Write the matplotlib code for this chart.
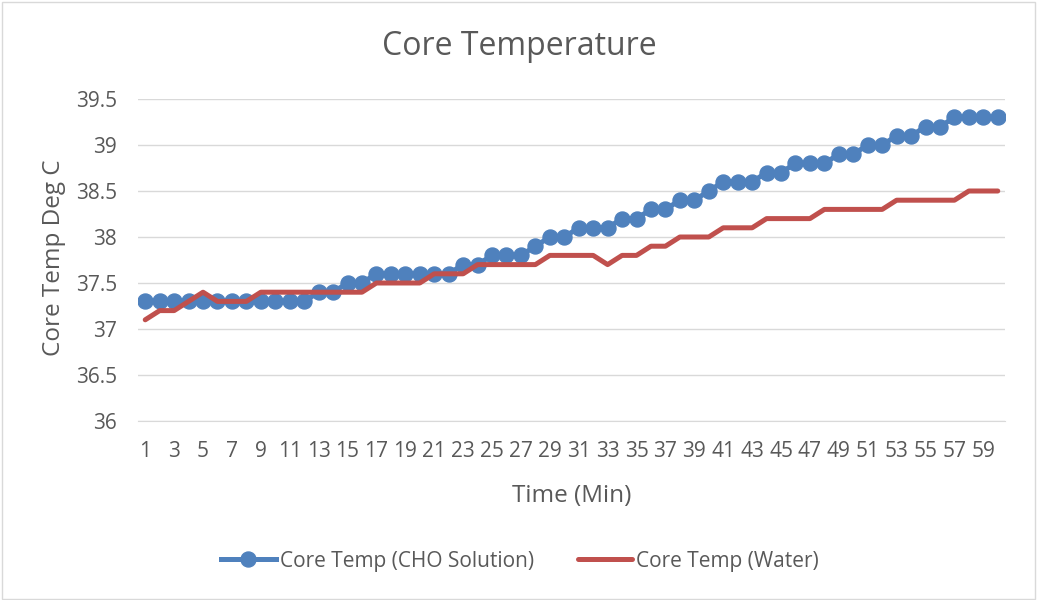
import matplotlib
matplotlib.use("Agg")
import matplotlib.pyplot as plt
from matplotlib.patches import Rectangle

minutes = list(range(1, 61))
cho = [37.3, 37.3, 37.3, 37.3, 37.3, 37.3, 37.3, 37.3, 37.3, 37.3,
       37.3, 37.3, 37.4, 37.4, 37.5, 37.5, 37.6, 37.6, 37.6, 37.6,
       37.6, 37.6, 37.7, 37.7, 37.8, 37.8, 37.8, 37.9, 38.0, 38.0,
       38.1, 38.1, 38.1, 38.2, 38.2, 38.3, 38.3, 38.4, 38.4, 38.5,
       38.6, 38.6, 38.6, 38.7, 38.7, 38.8, 38.8, 38.8, 38.9, 38.9,
       39.0, 39.0, 39.1, 39.1, 39.2, 39.2, 39.3, 39.3, 39.3, 39.3]
water = [37.1, 37.2, 37.2, 37.3, 37.4, 37.3, 37.3, 37.3, 37.4, 37.4,
         37.4, 37.4, 37.4, 37.4, 37.4, 37.4, 37.5, 37.5, 37.5, 37.5,
         37.6, 37.6, 37.6, 37.7, 37.7, 37.7, 37.7, 37.7, 37.8, 37.8,
         37.8, 37.8, 37.7, 37.8, 37.8, 37.9, 37.9, 38.0, 38.0, 38.0,
         38.1, 38.1, 38.1, 38.2, 38.2, 38.2, 38.2, 38.3, 38.3, 38.3,
         38.3, 38.3, 38.4, 38.4, 38.4, 38.4, 38.4, 38.5, 38.5, 38.5]
tick_minutes = list(range(1, 61, 2))
y_ticks = [36, 36.5, 37, 37.5, 38, 38.5, 39, 39.5]
y_tick_labels = ["36", "36.5", "37", "37.5", "38", "38.5", "39", "39.5"]

plt.rcParams['font.family'] = ['Open Sans', 'DejaVu Sans']
text_color = '#595959'
blue = '#4F81BD'
red = '#C0504D'
W, H = 1037, 600

fig = plt.figure(figsize=(10.37, 6.0), dpi=100)
ax = fig.add_axes([138 / W, 1 - 421 / H, (1005 - 138) / W, (421 - 99) / H])

ax.plot(minutes, cho, color=blue, lw=3.6, marker='o', markersize=10.8,
        label='Core Temp (CHO Solution)', zorder=3, solid_joinstyle='round')
ax.plot(minutes, water, color=red, lw=3.6, label='Core Temp (Water)', zorder=4,
        solid_joinstyle='round', solid_capstyle='round')

ax.set_xlim(0.5, 60.5)
ax.set_ylim(36, 39.5)
ax.set_yticks(y_ticks)
ax.set_yticklabels(y_tick_labels)
ax.set_xticks(tick_minutes)
ax.set_xticklabels([str(t) for t in tick_minutes])
ax.grid(axis='y', color='#d9d9d9', lw=1)
ax.set_axisbelow(True)
for s in ['top', 'right', 'left']:
    ax.spines[s].set_visible(False)
ax.spines['bottom'].set_color('#d9d9d9')
ax.tick_params(axis='both', length=0, labelsize=15, colors=text_color)
ax.tick_params(axis='y', pad=15)
ax.tick_params(axis='x', pad=14.5)

fig.text(572 / W, 1 - 502 / H, 'Time (Min)', ha='center', va='baseline',
         fontsize=17.5, color=text_color)
fig.text(60 / W, 1 - 258 / H, 'Core Temp Deg C', ha='center', va='baseline',
         rotation=90, rotation_mode='anchor', fontsize=17.5, color=text_color)
fig.text(519 / W, 1 - 55 / H, 'Core Temperature', ha='center', va='baseline',
         fontsize=23, color=text_color)

leg = fig.legend(loc='center', bbox_to_anchor=(520 / W, 1 - 561 / H), ncol=2,
                 frameon=False, fontsize=15, handlelength=2.6, columnspacing=2.1,
                 handletextpad=0.2)
for t in leg.get_texts():
    t.set_color(text_color)

fig.patches.append(Rectangle((0.0015, 0.0025), 0.997, 0.995, transform=fig.transFigure,
                             fill=False, edgecolor='#d9d9d9', lw=1))
fig.savefig('out.png', dpi=100, facecolor='white')
